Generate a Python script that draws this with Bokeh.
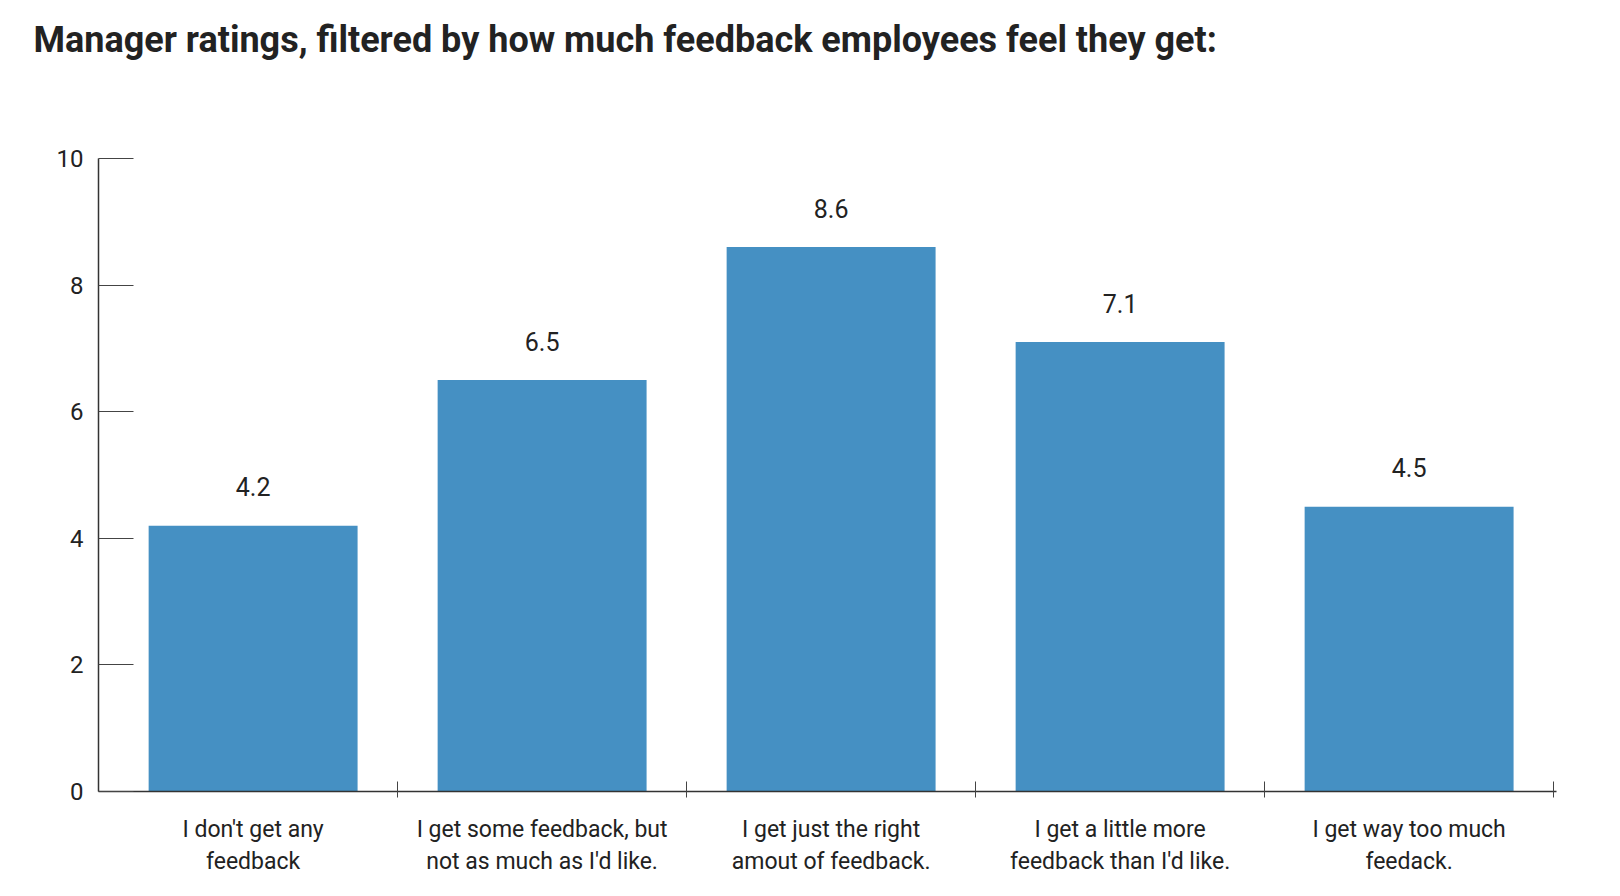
from bokeh.plotting import figure
from bokeh.models import FixedTicker, ColumnDataSource, Title
from bokeh.core.properties import value
from bokeh.embed import file_html
from bokeh.resources import INLINE

categories = [
    "I don't get any\nfeedback",
    "I get some feedback, but\nnot as much as I'd like.",
    "I get just the right\namout of feedback.",
    "I get a little more\nfeedback than I'd like.",
    "I get way too much\nfeedack.",
]
ratings = [4.2, 6.5, 8.6, 7.1, 4.5]
y_ticks = [0, 2, 4, 6, 8, 10]
title_text = "Manager ratings, filtered by how much feedback employees feel they get:"

FONT = "Roboto"
BAR = "#4590c3"
INK = "#222222"

xs = list(range(len(categories)))
src = ColumnDataSource(dict(x=xs, top=ratings, lab=[f"{v:.1f}" for v in ratings]))

p = figure(width=1620, height=896, output_backend="svg", toolbar_location=None,
           x_range=(-0.535, len(categories) - 0.49), y_range=(0, 10),
           min_border_left=98, min_border_right=64, min_border_bottom=105, min_border_top=0,
           title=title_text)
p.title.text_font = FONT
p.title.text_font_style = "bold"
p.title.text_font_size = "36px"
p.title.text_color = INK
p.title.align = "left"
p.title.offset = -65
p.title.standoff = 32

# empty spacer between the title and the plot area
p.add_layout(Title(text=" ", text_font_size="1px", standoff=79), "above")

p.outline_line_color = None
p.xgrid.grid_line_color = None
p.ygrid.grid_line_color = None
p.background_fill_color = "white"
p.border_fill_color = "white"

p.vbar(x="x", top="top", width=0.723, bottom=0, source=src, fill_color=BAR, line_color=None)
p.text(x="x", y="top", text="lab", source=src, text_align="center", text_baseline="middle",
       y_offset=-39, text_font=value(FONT), text_font_size="25px", text_color=INK)

# x axis
p.xaxis.ticker = FixedTicker(ticks=xs, minor_ticks=[i + 0.5 for i in xs])
p.xaxis.major_label_overrides = {i: c for i, c in zip(xs, categories)}
p.xaxis.major_tick_in = 0
p.xaxis.major_tick_out = 0
p.xaxis.minor_tick_in = 10
p.xaxis.minor_tick_out = 6
p.xaxis.minor_tick_line_color = "#444444"
p.xaxis.axis_line_color = "#333333"
p.xaxis.axis_line_width = 1.5
p.xaxis.major_label_text_font = FONT
p.xaxis.major_label_text_font_size = "23px"
p.xaxis.major_label_text_color = INK
p.xaxis.major_label_standoff = 18

# y axis
p.yaxis.ticker = FixedTicker(ticks=y_ticks)
p.yaxis.major_tick_in = 35
p.yaxis.major_tick_out = 0
p.yaxis.minor_tick_line_color = None
p.yaxis.major_tick_line_color = "#444444"
p.yaxis.axis_line_color = "#333333"
p.yaxis.axis_line_width = 1.5
p.yaxis.major_label_text_font = FONT
p.yaxis.major_label_text_font_size = "24px"
p.yaxis.major_label_text_color = INK
p.yaxis.major_label_standoff = 15

open("out.html", "w").write(file_html(p, INLINE))
